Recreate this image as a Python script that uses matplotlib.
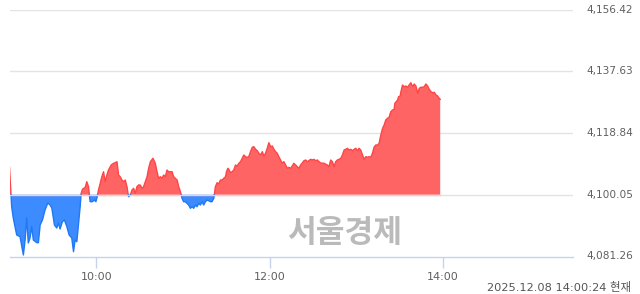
import numpy as np
import matplotlib
matplotlib.use('Agg')
from matplotlib import pyplot as plt
from matplotlib.transforms import blended_transform_factory

plt.rcParams['font.family'] = ['DejaVu Sans', 'Noto Sans CJK KR']

# minutes after 09:00 and index level
minutes = [0, 1.5, 2.6, 5.0, 7.3, 9.6, 10.8, 11.9, 13.0, 14.2, 15.4, 16.5, 18.9, 20.0, 21.2,
           22.8, 24.6, 26.5, 28.1, 29.3, 31.1, 32.7, 33.8, 35.0, 36.6, 38.0, 39.7, 41.3, 43.1,
           44.3, 45.4, 46.6, 47.7, 48.9, 49.6, 50.5, 52.4, 53.5, 54.7, 55.8, 57.4, 58.8, 59.8,
           60.7, 61.6, 62.8, 63.9, 65.1, 66.2, 67.4, 68.5, 70.4, 72.0, 73.2, 74.4, 75.5, 76.6,
           77.8, 78.9, 80.1, 81.3, 82.4, 83.6, 84.8, 85.9, 87.0, 88.2, 89.3, 90.5, 91.7, 92.8,
           95.2, 96.3, 97.5, 99.3, 100.9, 102.1, 103.2, 104.4, 105.6, 106.7, 107.9, 109.0, 110.1,
           112.5, 113.6, 116.0, 117.1, 118.3, 119.4, 120.5, 121.7, 124.0, 125.2, 126.4, 127.5,
           128.7, 129.8, 131.0, 132.1, 133.3, 134.4, 135.6, 136.8, 139.1, 140.2, 141.4, 142.5,
           143.7, 144.8, 146.0, 147.2, 148.3, 149.5, 150.2, 151.1, 151.8, 152.9, 154.1, 155.2,
           156.4, 157.6, 158.7, 159.9, 161.1, 162.2, 163.3, 164.5, 165.6, 166.8, 168.0, 169.1,
           170.3, 171.5, 172.6, 173.8, 175.0, 176.0, 177.2, 178.4, 179.5, 180.7, 181.9, 183.0,
           184.2, 185.3, 186.4, 187.6, 188.8, 189.9, 191.1, 192.3, 193.4, 194.6, 195.7, 196.8,
           198.0, 199.2, 200.3, 201.5, 202.7, 203.8, 205.0, 206.1, 207.2, 208.4, 209.6, 210.7,
           211.9, 213.1, 214.2, 215.4, 217.7, 220.0, 221.1, 222.3, 223.5, 224.6, 225.8, 226.9,
           228.1, 229.3, 230.4, 231.6, 232.7, 233.9, 235.0, 236.2, 237.4, 238.5, 239.7, 240.8,
           241.9, 243.1, 244.3, 245.4, 246.6, 247.8, 248.9, 250.0, 251.2, 252.3, 253.5, 254.7,
           255.8, 257.0, 258.2, 259.3, 260.4, 261.6, 262.7, 263.9, 265.1, 266.2, 266.7, 268.6,
           269.3, 270.4, 270.9, 272.0, 273.1, 274.3, 275.5, 276.6, 277.8, 279.0, 280.1, 281.3,
           282.5, 283.6, 284.7, 285.9, 287.0, 288.2, 289.4, 290.5, 291.7, 292.8, 294.0, 295.2,
           296.3, 297.4, 298.1]
kospi = [4108.40, 4096.41, 4092.98, 4087.80, 4087.28, 4081.72, 4086.28, 4092.98, 4085.37, 4086.89,
         4090.33, 4086.28, 4085.46, 4085.46, 4090.84, 4092.37, 4095.41, 4097.54, 4096.93, 4096.02,
         4090.84, 4089.93, 4091.45, 4089.63, 4091.85, 4092.37, 4090.33, 4087.80, 4086.89, 4082.72,
         4086.28, 4085.76, 4090.84, 4096.41, 4100.49, 4101.71, 4102.32, 4104.02, 4102.50, 4097.94,
         4097.94, 4098.45, 4097.94, 4099.46, 4101.50, 4103.53, 4105.54, 4107.06, 4104.02, 4106.06,
         4107.58, 4109.10, 4109.62, 4109.80, 4110.11, 4106.06, 4105.54, 4104.54, 4104.02, 4104.54,
         4102.50, 4099.46, 4099.97, 4101.50, 4102.01, 4100.49, 4102.50, 4103.02, 4103.02, 4102.01,
         4102.50, 4105.54, 4108.10, 4110.11, 4111.14, 4109.62, 4107.06, 4105.06, 4105.54, 4105.06,
         4106.06, 4105.54, 4107.58, 4107.06, 4107.06, 4105.54, 4104.54, 4102.50, 4100.98, 4098.97,
         4097.94, 4097.94, 4096.93, 4095.93, 4096.41, 4095.93, 4096.93, 4096.41, 4097.45, 4096.93,
         4097.94, 4096.93, 4097.94, 4098.45, 4097.94, 4097.94, 4098.97, 4102.50, 4103.72, 4103.32,
         4104.54, 4104.54, 4105.06, 4105.54, 4107.06, 4108.10, 4107.79, 4106.76, 4107.06, 4107.58,
         4109.10, 4108.80, 4109.62, 4110.11, 4111.14, 4112.15, 4111.63, 4111.45, 4111.63, 4113.15,
         4114.49, 4114.67, 4113.88, 4113.45, 4112.66, 4112.15, 4113.15, 4111.84, 4112.66, 4114.18,
         4115.89, 4114.67, 4114.88, 4113.88, 4113.15, 4112.66, 4111.63, 4110.62, 4109.62, 4110.11,
         4109.10, 4108.10, 4108.40, 4108.10, 4108.80, 4109.62, 4109.10, 4108.58, 4108.10, 4109.10,
         4109.80, 4110.41, 4110.62, 4110.11, 4110.41, 4110.84, 4110.62, 4110.84, 4110.41, 4110.62,
         4110.11, 4109.71, 4109.62, 4109.10, 4108.58, 4110.62, 4110.11, 4108.58, 4110.11, 4110.62,
         4110.84, 4111.14, 4112.15, 4113.67, 4113.88, 4114.18, 4113.67, 4113.88, 4113.45, 4113.88,
         4114.18, 4113.45, 4114.18, 4113.67, 4112.15, 4110.84, 4111.63, 4111.45, 4111.63, 4111.45,
         4112.66, 4114.49, 4115.19, 4115.19, 4115.71, 4118.23, 4120.27, 4121.28, 4122.80, 4123.31,
         4123.62, 4125.32, 4125.84, 4126.05, 4127.88, 4128.88, 4129.89, 4130.10, 4131.41, 4133.45,
         4132.93, 4133.14, 4132.75, 4133.45, 4134.15, 4132.93, 4133.75, 4133.14, 4130.92, 4132.44,
         4132.75, 4132.75, 4132.93, 4133.75, 4133.14, 4132.14, 4131.41, 4131.10, 4131.22, 4130.40,
         4130.10, 4129.40, 4129.10]

prev_close = 4100.05
ytick_vals = [4081.26, 4100.05, 4118.84, 4137.63, 4156.42]
ytick_labels = ['4,081.26', '4,100.05', '4,118.84', '4,137.63', '4,156.42']
xtick_vals = [60, 180, 300]
xtick_labels = ['10:00', '12:00', '14:00']
stamp = '2025.12.08 14:00:24 현재'
watermark = '서울경제'

t = np.array(minutes, dtype=float)
v = np.array(kospi, dtype=float)

# put crossing points on the baseline so colours switch cleanly
tt, vv = [t[0]], [v[0]]
for i in range(1, len(t)):
    a, b = v[i-1] - prev_close, v[i] - prev_close
    if a * b < 0:
        tc = t[i-1] + (t[i] - t[i-1]) * a / (a - b)
        tt.append(tc)
        vv.append(prev_close)
    tt.append(t[i])
    vv.append(v[i])
tt = np.array(tt)
vv = np.array(vv)

fig = plt.figure(figsize=(6.4, 2.94), dpi=100)
ax = fig.add_axes([9.5/640, (294-256.5)/294, (573-9.5)/640, (256.5-9.5)/294])

for y in ytick_vals[1:]:
    ax.axhline(y, color='#e3e3e3', lw=1, zorder=0)

ax.fill_between(tt, vv, prev_close, where=vv >= prev_close, color='#ff6464', lw=0, zorder=2)
ax.fill_between(tt, vv, prev_close, where=vv <= prev_close, color='#3d8cff', lw=0, zorder=2)
ax.plot(tt, np.ma.masked_where(vv < prev_close, vv), color='#ff4545', lw=1, zorder=3)
ax.plot(tt, np.ma.masked_where(vv > prev_close, vv), color='#1f78f5', lw=1, zorder=3)
# light base line over the filled part
ax.plot([tt[0], tt[-1]], [prev_close, prev_close], color='#ffc9c9', lw=1, zorder=4)

ax.set_xlim(0, 390)
ax.set_ylim(ytick_vals[0], ytick_vals[-1])
for s in ['top', 'right', 'left']:
    ax.spines[s].set_visible(False)
ax.spines['bottom'].set_color('#c6d3ea')
ax.spines['bottom'].set_linewidth(1)
ax.set_yticks([])
ax.set_xticks(xtick_vals)
ax.set_xticklabels(xtick_labels)
ax.tick_params(axis='x', length=8, width=1, color='#c6d3ea', labelsize=8,
               labelcolor='#606060', pad=3)

trans = blended_transform_factory(fig.transFigure, ax.transData)
for y, lab in zip(ytick_vals, ytick_labels):
    ax.text(633/640, y, lab, transform=trans, ha='right', va='center',
            fontsize=7.6, color='#606060', clip_on=False)

fig.text(345/640, 1 - 233/294, watermark, ha='center', va='center', fontsize=22.5,
         fontweight='bold', color='#bababa', family='Noto Sans CJK KR', zorder=5)
fig.text(631/640, 1 - 287/294, stamp, ha='right', va='center', fontsize=8.2,
         color='#555555')

fig.savefig('out.png', dpi=100)
